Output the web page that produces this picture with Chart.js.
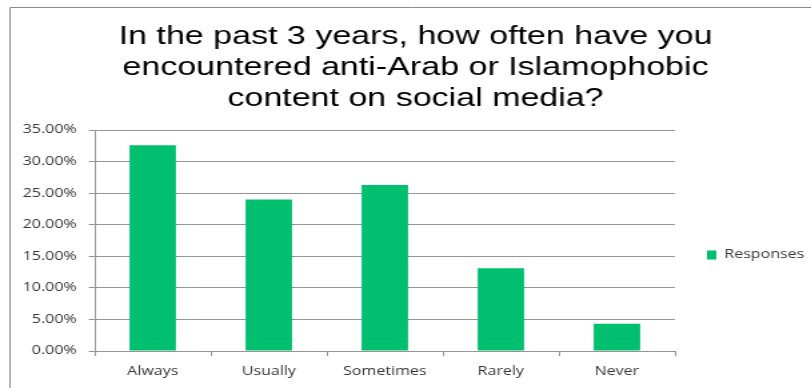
<!DOCTYPE html>
<html>
<head>
<meta charset="utf-8">
<title>Responses</title>
<script src="https://cdn.jsdelivr.net/npm/chart.js@4.4.1/dist/chart.umd.min.js"></script>
<style>
  html, body { margin: 0; padding: 0; background: #fff; }
  #responsesChart { display: block; }
</style>
</head>
<body>
<!-- canvas is drawn narrow and widened by its inline style -->
<canvas id="responsesChart" width="608" height="388" style="width:811px;height:388px"></canvas>
<script>

/*CHART DATA*/
var categories = ["Always", "Usually", "Sometimes", "Rarely", "Never"];
var responseValues = [32.6, 24.0, 26.3, 13.1, 4.3];
var seriesName = "Responses";
var titleLines = [
  "In the past 3 years, how often have you",
  "encountered anti-Arab or Islamophobic",
  "content on social media?"
];
var yTickMax = 35;
var yTickStep = 5;
/*CHART DATA*/

var gridColor = "#959595";
var textColor = "#363636";
var barColor = "#00bf6f";
var labelFont = { family: '"Open Sans", sans-serif', size: 12 };

/*FRAME AND TITLE*/
var frameAndTitle = {
  id: "frameAndTitle",
  beforeDraw: function (chart) {
    var ctx = chart.ctx;
    ctx.save();
    ctx.strokeStyle = "#8a8a8a";
    ctx.lineWidth = 1;
    ctx.beginPath();
    ctx.moveTo(7.5, chart.height + 5);
    ctx.lineTo(7.5, 7.5);
    ctx.lineTo(chart.width + 5, 7.5);
    ctx.stroke();

    ctx.fillStyle = "#000";
    ctx.font = '25.5px "Liberation Sans", Arial, sans-serif';
    ctx.textAlign = "center";
    ctx.textBaseline = "alphabetic";
    for (var i = 0; i < titleLines.length; i++) {
      ctx.fillText(titleLines[i], 311.5, 43.5 + i * 31);
    }
    ctx.restore();
  }
};
/*FRAME AND TITLE*/

var ctx = document.getElementById("responsesChart");
var myChart = new Chart(ctx, {
  type: "bar",
  data: {
    labels: categories,
    datasets: [{
      label: seriesName,
      data: responseValues,
      backgroundColor: barColor,
      borderWidth: 0,
      barPercentage: 0.4,
      categoryPercentage: 1
    }]
  },
  options: {
    responsive: false,
    devicePixelRatio: 1,
    animation: false,
    layout: { padding: { top: 130, left: 7, right: 2, bottom: 8 } },
    plugins: {
      title: { display: false },
      tooltip: { enabled: false },
      legend: {
        position: "right",
        maxWidth: 100,
        labels: {
          boxWidth: 7,
          boxHeight: 9,
          padding: 24,
          color: textColor,
          font: labelFont
        }
      }
    },
    scales: {
      x: {
        afterFit: function (scale) { scale.height = 29; },
        grid: { display: true, drawOnChartArea: false, drawTicks: true, tickLength: 5, color: gridColor, offset: true },
        border: { display: true, color: gridColor },
        ticks: { color: textColor, padding: 8, font: labelFont }
      },
      y: {
        min: 0,
        max: yTickMax,
        afterFit: function (scale) { scale.width = 64; },
        grid: { color: gridColor, drawTicks: true, tickLength: 4.5 },
        border: { display: true, color: gridColor },
        ticks: {
          stepSize: yTickStep,
          padding: 9,
          color: textColor,
          font: labelFont,
          callback: function (v) { return v.toFixed(2) + "%"; }
        }
      }
    }
  },
  plugins: [frameAndTitle]
});
</script>
</body>
</html>
